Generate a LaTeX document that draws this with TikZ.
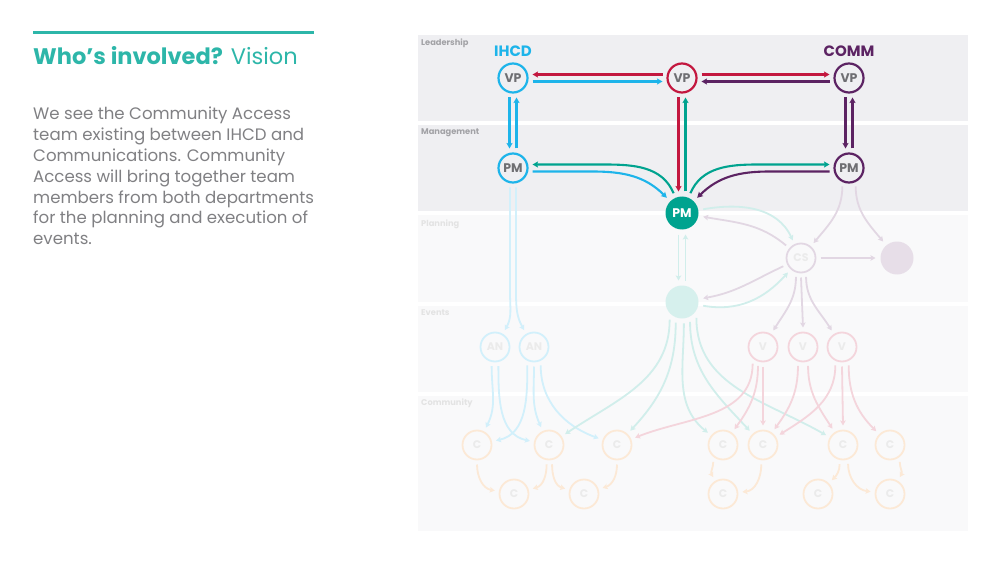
\documentclass[tikz,border=0pt]{standalone}
\usepackage{fontspec}
\setmainfont{Poppins}
\usetikzlibrary{positioning, arrows.meta}
\definecolor{ihcd}{HTML}{1DB4EA}
\definecolor{comm}{HTML}{5C2363}
\definecolor{exec}{HTML}{C3173F}
\definecolor{hub}{HTML}{00A38F}
\definecolor{titleteal}{HTML}{2DB6A9}
\definecolor{peach}{HTML}{F2A65A}
\definecolor{bandgray}{HTML}{EFEFF2}
\definecolor{bandpale}{HTML}{F9F9FA}
\definecolor{bodygray}{HTML}{808083}
\definecolor{nodegray}{HTML}{6E6E72}
\definecolor{labelgray}{HTML}{A2A2A6}

\begin{document}
\begin{tikzpicture}[
        x=1pt, y=1pt,
        every node/.style={align=center},
        band/.style={fill=#1, draw=none},
        bandlabel/.style={anchor=west, inner sep=0pt, font=\fontsize{8.3}{9}\selectfont\bfseries, text=#1},
        ring/.style={circle, draw=#1, line width=2.2pt, minimum size=29pt, inner sep=0pt, outer sep=5pt, text=nodegray, font=\fontsize{12.5}{13}\selectfont\bfseries},
        ghost/.style={circle, draw=#1, line width=1.8pt, minimum size=29pt, inner sep=0pt, outer sep=5pt, text=black!8, font=\fontsize{11}{12}\selectfont\bfseries},
        blob/.style={circle, fill=#1, minimum size=33pt, inner sep=0pt, outer sep=5pt, text=white, font=\fontsize{12.5}{13}\selectfont\bfseries},
        link/.style={draw=#1, line width=2.1pt, -{Stealth[length=5.5pt, width=6pt, inset=1pt]}},
        faint/.style={draw=#1, line width=1.8pt, -{Stealth[length=5pt, width=5.5pt, inset=1pt]}}
    ]
    \useasboundingbox (0,0) rectangle (1000,563);

    % Left panel
    \draw[titleteal, line width=3pt] (33,530) -- (314,530);
    \node[anchor=base west, inner sep=0pt, text=titleteal, font=\fontsize{22.5}{25}\selectfont] (title) at (33,498) {{\bfseries Who’s involved?} Vision};
    \node[anchor=north west, inner sep=0pt, align=left, text=bodygray, font=\fontsize{16.6}{20.8}\selectfont] (body) at (33,456)
        {We see the Community Access\\team existing between IHCD and\\Communications. Community\\Access will bring together team\\members from both departments\\for the planning and execution of\\events.};

    % Bands
    \fill[band=bandgray] (418,442) rectangle (968,528);
    \fill[band=bandgray] (418,352) rectangle (968,438);
    \fill[band=bandpale] (418,261) rectangle (968,348);
    \fill[band=bandpale] (418,171) rectangle (968,257);
    \fill[band=bandpale] (418,32) rectangle (968,167);
    \node[bandlabel=labelgray] (lLead) at (421,520) {Leadership};
    \node[bandlabel=labelgray] (lMan) at (421,430) {Management};
    \node[bandlabel=black!11] (lPlan) at (421,339) {Planning};
    \node[bandlabel=black!11] (lEv) at (421,250) {Events};
    \node[bandlabel=black!11] (lCom) at (421,160) {Community};

    % Leadership and management
    \node[ring=ihcd] (vpI) at (513,485) {VP};
    \node[ring=exec] (vpC) at (682,485) {VP};
    \node[ring=comm] (vpM) at (849,485) {VP};
    \node[ring=ihcd] (pmI) at (513,395) {PM};
    \node[ring=comm] (pmM) at (849,395) {PM};
    \node[blob=hub] (pmC) at (682,350) {PM};
    \node[text=ihcd, font=\fontsize{15}{16}\selectfont\bfseries] (tIhcd) at (513,512) {IHCD};
    \node[text=comm, font=\fontsize{15}{16}\selectfont\bfseries] (tComm) at (849,512) {COMM};

    % Planning, events, community
    \node[ghost=comm!18!white] (cs) at (801,305) {CS};
    \node[blob=comm!15!white] (pur) at (897,305) {};
    \node[blob=hub!16!white] (ev) at (682,261) {};
    \node[ghost=ihcd!20!white] (an1) at (495,216) {AN};
    \node[ghost=ihcd!20!white] (an2) at (534,216) {AN};
    \node[ghost=exec!18!white] (v1) at (763,216) {V};
    \node[ghost=exec!18!white] (v2) at (803,216) {V};
    \node[ghost=exec!18!white] (v3) at (842,216) {V};
    \node[ghost=peach!25!white] (c1) at (477,118) {C};
    \node[ghost=peach!25!white] (c2) at (549,118) {C};
    \node[ghost=peach!25!white] (c3) at (617,118) {C};
    \node[ghost=peach!25!white] (c4) at (723,118) {C};
    \node[ghost=peach!25!white] (c5) at (763,118) {C};
    \node[ghost=peach!25!white] (c6) at (843,118) {C};
    \node[ghost=peach!25!white] (c7) at (890,118) {C};
    \node[ghost=peach!25!white] (c8) at (514,69) {C};
    \node[ghost=peach!25!white] (c9) at (584,69) {C};
    \node[ghost=peach!25!white] (c10) at (723,69) {C};
    \node[ghost=peach!25!white] (c11) at (818,69) {C};
    \node[ghost=peach!25!white] (c12) at (890,69) {C};

    % Faded connectors
    \draw[faint=hub!18!white] (pmC.10) to[out=10, in=115] (cs.115);
    \draw[faint=comm!18!white] (cs.140) to[out=140, in=-10] (pmC.-10);
    \draw[faint=comm!18!white] (cs.205) to[out=205, in=10] (ev.10);
    \draw[faint=hub!18!white] (ev.-10) to[out=-10, in=228] (cs.228);
    \draw[faint=hub!18!white] ([xshift=-3.5]pmC.south) -- ([xshift=-3.5]ev.north);
    \draw[faint=hub!18!white] ([xshift=3.5]ev.north) -- ([xshift=3.5]pmC.south);
    \draw[faint=comm!18!white] (pmM.250) to[out=-90, in=50] (cs.50);
    \draw[faint=comm!18!white] (pmM.290) to[out=-90, in=130] (pur.130);
    \draw[faint=comm!18!white] (cs.east) -- (pur.west);
    \draw[faint=ihcd!20!white] ([xshift=-3]pmI.south) -- ++(0,-105) to[out=-90, in=60] (an1.60);
    \draw[faint=ihcd!20!white] ([xshift=3]pmI.south) -- ++(0,-105) to[out=-90, in=120] (an2.120);
    \draw[faint=comm!18!white] (cs.255) to[out=-90, in=58] (v1.58);
    \draw[faint=comm!18!white] (cs.270) -- (v2.north);
    \draw[faint=comm!18!white] (cs.285) to[out=-90, in=122] (v3.122);

    \draw[faint=ihcd!20!white] (an1.260) to[out=-90, in=63] (c1.63);
    \draw[faint=ihcd!20!white] (an1.280) to[out=-90, in=168] (c2.168);
    \draw[faint=ihcd!20!white] (an2.250) to[out=-90, in=13] (c1.13);
    \draw[faint=ihcd!20!white] (an2.270) to[out=-90, in=114] (c2.114);
    \draw[faint=ihcd!20!white] (an2.290) to[out=-90, in=160] (c3.160);
    \draw[faint=hub!18!white] (ev.235) to[out=-90, in=34] (c2.34);
    \draw[faint=hub!18!white] (ev.253) to[out=-90, in=47] (c3.47);
    \draw[faint=hub!18!white] (ev.275) to[out=-90, in=141] (c4.141);
    \draw[faint=hub!18!white] (ev.292) to[out=-90, in=133] (c5.133);
    \draw[faint=hub!18!white] (ev.312) to[out=-90, in=150] (c6.150);
    \draw[faint=exec!18!white] (v1.238) to[out=-90, in=22] (c3.22);
    \draw[faint=exec!18!white] (v1.255) to[out=-90, in=54] (c4.54);
    \draw[faint=exec!18!white] (v1.south) -- (c5.north);
    \draw[faint=exec!18!white] (v2.255) to[out=-90, in=54] (c5.54);
    \draw[faint=exec!18!white] (v2.285) to[out=-90, in=123] (c6.123);
    \draw[faint=exec!18!white] (v3.250) to[out=-90, in=32] (c5.32);
    \draw[faint=exec!18!white] (v3.south) -- (c6.north);
    \draw[faint=exec!18!white] (v3.290) to[out=-90, in=135] (c7.135);

    \draw[faint=peach!25!white] (c1.south) to[out=-90, in=170] (c8.170);
    \draw[faint=peach!25!white] (c2.263) to[out=-90, in=16] (c8.16);
    \draw[faint=peach!25!white] (c2.279) to[out=-90, in=164] (c9.164);
    \draw[faint=peach!25!white] (c3.south) to[out=-90, in=18] (c9.18);
    \draw[faint=peach!25!white] (c4.240) to[out=-90, in=120] (c10.120);
    \draw[faint=peach!25!white] (c5.265) to[out=-90, in=6] (c10.6);
    \draw[faint=peach!25!white] (c6.260) to[out=-90, in=45] (c11.45);
    \draw[faint=peach!25!white] (c6.285) to[out=-90, in=173] (c12.173);
    \draw[faint=peach!25!white] (c7.300) to[out=-90, in=60] (c12.60);

    % Main connectors
    \draw[link=exec] ([yshift=3.5]vpC.west) -- ([yshift=3.5]vpI.east);
    \draw[link=ihcd] ([yshift=-3.5]vpI.east) -- ([yshift=-3.5]vpC.west);
    \draw[link=exec] ([yshift=3.5]vpC.east) -- ([yshift=3.5]vpM.west);
    \draw[link=comm] ([yshift=-3.5]vpM.west) -- ([yshift=-3.5]vpC.east);
    \draw[link=ihcd] ([xshift=-3.5]vpI.south) -- ([xshift=-3.5]pmI.north);
    \draw[link=ihcd] ([xshift=3.5]pmI.north) -- ([xshift=3.5]vpI.south);
    \draw[link=comm] ([xshift=-3.5]vpM.south) -- ([xshift=-3.5]pmM.north);
    \draw[link=comm] ([xshift=3.5]pmM.north) -- ([xshift=3.5]vpM.south);
    \draw[link=exec] ([xshift=-3.5]vpC.south) -- ([xshift=-3.5]pmC.north);
    \draw[link=hub] ([xshift=3.5]pmC.north) -- ([xshift=3.5]vpC.south);
    \draw[link=hub] (pmC.113) to[out=113, in=0] ([xshift=72, yshift=3.5]pmI.east) -- ([yshift=3.5]pmI.east);
    \draw[link=ihcd] ([yshift=-3.5]pmI.east) -- ([xshift=60, yshift=-3.5]pmI.east) to[out=0, in=135] (pmC.135);
    \draw[link=hub] (pmC.67) to[out=67, in=180] ([xshift=-72, yshift=3.5]pmM.west) -- ([yshift=3.5]pmM.west);
    \draw[link=comm] ([yshift=-3.5]pmM.west) -- ([xshift=-60, yshift=-3.5]pmM.west) to[out=180, in=45] (pmC.45);

\end{tikzpicture}
\end{document}
